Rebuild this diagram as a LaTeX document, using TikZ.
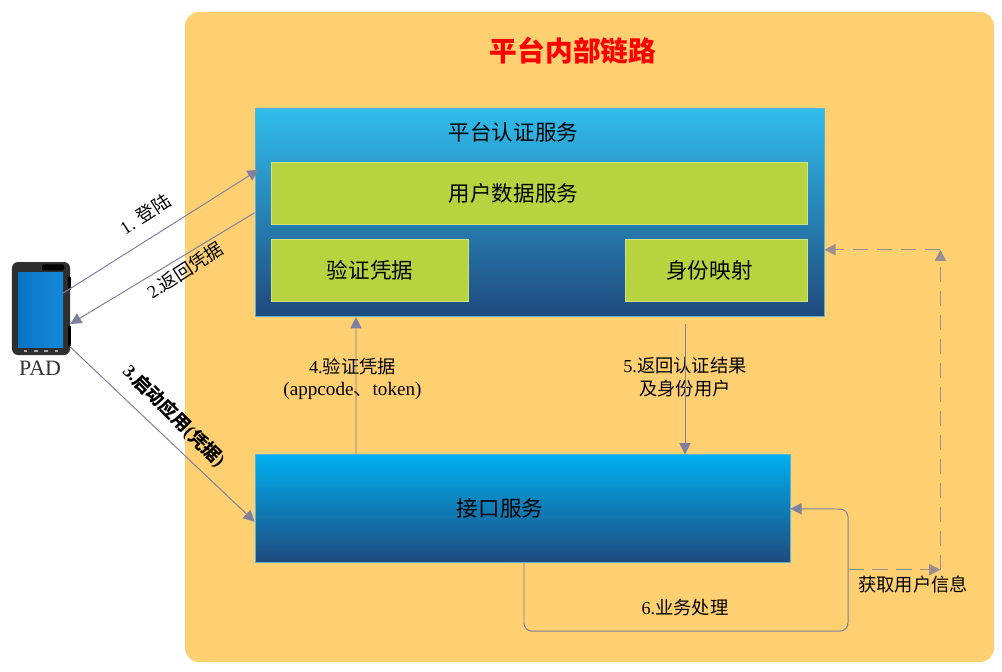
\documentclass[tikz,border=0pt]{standalone}
\usepackage{fontspec}
\setmainfont{Liberation Serif}
\newfontfamily\cjk{Noto Sans CJK SC}
\usetikzlibrary{arrows.meta}

\definecolor{panelfill}{HTML}{FFD071}
\definecolor{authtop}{HTML}{30BDEC}
\definecolor{apitop}{HTML}{00B0F0}
\definecolor{boxbottom}{HTML}{1F497D}
\definecolor{boxedge}{HTML}{5AB4D6}
\definecolor{greenfill}{HTML}{B7D440}
\definecolor{linkcolor}{HTML}{7F7F9E}
\definecolor{dashcolor}{HTML}{9A8F90}
\definecolor{titlered}{HTML}{FF0000}
\definecolor{screenleft}{HTML}{0A74C4}
\definecolor{screenright}{HTML}{1488D8}

\tikzstyle{panel} = [rectangle, rounded corners=0.35cm, minimum width=20.225cm, minimum height=16.25cm, fill=panelfill, inner sep=0pt]
\tikzstyle{bluebox} = [rectangle, draw=boxedge, line width=0.5pt, top color=apitop, bottom color=boxbottom, inner sep=0pt]
\tikzstyle{greenbox} = [rectangle, draw=white!35!greenfill, line width=0.5pt, fill=greenfill, minimum height=1.55cm, inner sep=0pt]
\tikzstyle{heading} = [font=\fontsize{19.7}{24}\selectfont\cjk\bfseries, text=titlered]
\tikzstyle{boxtext} = [font=\fontsize{15.3}{18}\selectfont\cjk]
\tikzstyle{note} = [font=\fontsize{13}{16}\selectfont, align=center, inner sep=0pt]
\tikzstyle{slanted} = [font=\fontsize{13}{16}\selectfont, inner sep=0pt]
\tikzstyle{arrow} = [line width=0.7pt, draw=linkcolor, -{Triangle[length=0.28cm, width=0.28cm]}]
\tikzstyle{dasharrow} = [arrow, draw=dashcolor, line width=1pt, dash pattern=on 0.38cm off 0.22cm]
\tikzstyle{padpart} = [rectangle, inner sep=0pt]

\begin{document}
\begin{tikzpicture}[node distance=2cm]
	\useasboundingbox (0,0) rectangle (25.05,-16.8);
	
	% Platform
	\node (platform) [panel] at (14.7375,-8.425) {};
	\node (title) [heading, xshift=-0.4125cm, yshift=-0.975cm] at (platform.north) {平台内部链路};
	
	% Auth service
	\node (auth) [bluebox, top color=authtop, minimum width=14.225cm, minimum height=5.2cm, below of=title, xshift=-0.8375cm, yshift=-2.05cm] {};
	\node (userdata) [greenbox, minimum width=13.4cm, above of=auth, yshift=-1.525cm] {};
	\node (userdatatext) [boxtext, xshift=-0.65cm] at (userdata) {用户数据服务};
	\node (authtext) [boxtext, above of=userdata, xshift=-0.65cm, yshift=-0.475cm] {平台认证服务};
	\node (verify) [greenbox, minimum width=4.925cm, below of=userdata, xshift=-4.2375cm, yshift=0.075cm] {};
	\node (verifytext) [boxtext] at (verify) {验证凭据};
	\node (mapping) [greenbox, minimum width=4.55cm, below of=userdata, xshift=4.425cm, yshift=0.075cm] {};
	\node (mappingtext) [boxtext, xshift=-0.175cm] at (mapping) {身份映射};
	
	% Api service
	\node (api) [bluebox, minimum width=13.375cm, minimum height=2.7cm, below of=auth, xshift=-0.425cm, yshift=-5.4cm] {};
	\node (apitext) [boxtext, xshift=-0.5625cm] at (api) {接口服务};
	
	% Pad
	\node (pad) [padpart, rounded corners=0.15cm, minimum width=1.45cm, minimum height=2.325cm, fill=black!82] at (1.025,-7.7125) {};
	\node (padcam) [padpart, rounded corners=0.03cm, minimum width=0.55cm, minimum height=0.15cm, fill=black, xshift=0.3cm, yshift=-0.14cm] at (pad.north) {};
	\node (padscreen) [padpart, minimum width=1.125cm, minimum height=1.875cm, left color=screenleft, right color=screenright, yshift=-0.025cm, xshift=-0.0125cm] at (pad) {};
	\node (padkeya) [padpart, minimum width=0.07cm, minimum height=0.33cm, fill=black, xshift=-0.02cm, yshift=0.62cm] at (pad.east) {};
	\node (padkeyb) [padpart, minimum width=0.07cm, minimum height=0.5cm, fill=black, xshift=-0.02cm, yshift=-0.68cm] at (pad.east) {};
	\foreach \n in {-1.5,-0.5,0.5,1.5}
		\node (padbtn\n) [padpart, minimum width=0.09cm, minimum height=0.05cm, fill=black!35, xshift=\n*0.26cm, yshift=0.11cm] at (pad.south) {};
	\node (padtext) [font=\fontsize{15.6}{18}\selectfont, text=black!80, below of=pad, yshift=0.5cm, xshift=-0.025cm] {PAD};
	
	% Labels
	\node (login) [slanted, rotate=33] at (3.625,-5.35) {1. {\cjk 登陆}};
	\node (back) [slanted, rotate=33] at (4.625,-6.75) {2.{\cjk 返回凭据}};
	\node (launch) [slanted, font=\fontsize{13}{16}\selectfont\bfseries, rotate=-45] at (4.35,-10.4) {3.{\cjk 启动应用}({\cjk 凭据})};
	\node (checknote) [note] at (8.8125,-9.475) {4.{\cjk 验证凭据}\\{\fontsize{13.6}{16}\selectfont(appcode{\cjk 、}token)}};
	\node (resultnote) [note] at (17.125,-9.425) {5.{\cjk 返回认证结果}\\{\cjk 及身份用户}};
	\node (worknote) [note] at (17.125,-15.2) {6.{\cjk 业务处理}};
	\node (infonote) [note, font=\fontsize{13}{16}\selectfont\cjk] at (22.825,-14.625) {获取用户信息};
	
	% Dashed corners
	\coordinate (infotap) at ([xshift=1.45cm,yshift=-1.525cm]api.east);
	\coordinate (infocorner) at ([xshift=2.3cm]infotap);
	\coordinate (authport) at ([yshift=-0.925cm]auth.east);
	\coordinate (infotop) at (infocorner |- authport);
	
	% Arrows
	\draw [arrow] ([xshift=-0.175cm,yshift=0.3875cm]pad.east) -- ([xshift=0.1cm,yshift=1.075cm]auth.west);
	\draw [arrow] (auth.west) -- ([yshift=-0.3875cm]pad.east);
	\draw [arrow] ([yshift=-0.9625cm]pad.east) -- ([yshift=-0.325cm]api.west);
	\draw [arrow] ([xshift=-4.1625cm]api.north) -- ([xshift=-4.5875cm]auth.south);
	\draw [arrow] ([xshift=3.6375cm,yshift=-0.175cm]auth.south) -- ([xshift=4.0625cm]api.north);
	\draw [arrow, rounded corners=0.2cm] ([xshift=0.0375cm]api.south) -- ++(0,-1.7) -- ++(8.1,0) -- ++(0,3.05) -- (api.east);
	\draw [dasharrow] (infotap) -- (infocorner);
	\draw [dasharrow] (infocorner) -- (infotop);
	\draw [dasharrow] (infotop) -- (authport);
	
\end{tikzpicture}
\end{document}
